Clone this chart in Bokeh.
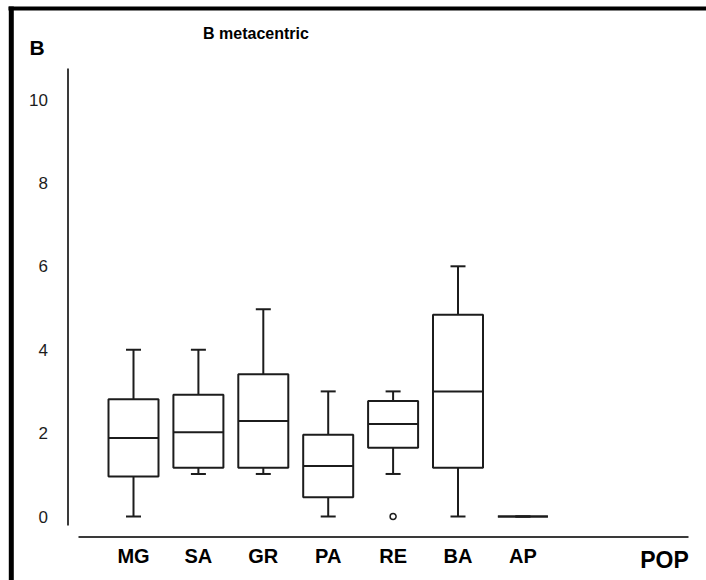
from bokeh.plotting import figure
from bokeh.models import Range1d, ColumnDataSource
from bokeh.embed import file_html
from bokeh.resources import INLINE
from bokeh.core.properties import value

# ---- data ----
populations = ["MG", "SA", "GR", "PA", "RE", "BA", "AP"]
whisker_low = [0.0, 1.02, 1.02, 0.0, 1.02, 0.0, 0.0]
q1 = [0.96, 1.17, 1.17, 0.46, 1.65, 1.17, 0.0]
median = [1.88, 2.02, 2.29, 1.21, 2.22, 3.0, 0.0]
q3 = [2.81, 2.92, 3.41, 1.96, 2.77, 4.84, 0.0]
whisker_high = [4.0, 4.0, 4.97, 3.0, 3.0, 6.0, 0.0]
outlier_pop = ["RE"]
outlier_val = [0.0]
y_ticks = [0, 2, 4, 6, 8, 10]
title_text = "B metacentric"
panel_label = "B"
x_label = "POP"

# ---- layout (pixel geometry of the canvas) ----
W, H = 706, 580
X0, DX = 133.0, 64.9     # pixel of first category, pixels per category
Y0, DY = 516.0, 41.7     # pixel of value 0, pixels per unit


def dx(px):
    return (px - X0) / DX


def dy(py):
    return (Y0 - py) / DY


INK = "#1c1c1c"
AXIS = "#3a3a3a"
FONT = "Liberation Sans"

p = figure(width=W, height=H, x_range=Range1d(dx(0), dx(W)), y_range=Range1d(dy(H), dy(0)),
           x_axis_type=None, y_axis_type=None, min_border=0, toolbar_location=None,
           output_backend="svg", outline_line_color=None, background_fill_color="white",
           border_fill_color="white")
p.grid.visible = False

idx = {c: i for i, c in enumerate(populations)}
xs = [idx[c] for c in populations]
bw = 25.0 / DX
cw = 7.5 / DX

src = ColumnDataSource(dict(x=xs, left=[x - bw for x in xs], right=[x + bw for x in xs],
                            cl=[x - cw for x in xs], cr=[x + cw for x in xs],
                            lo=whisker_low, q1=q1, med=median, q3=q3, hi=whisker_high))

# whiskers
p.segment(x0="x", y0="q3", x1="x", y1="hi", source=src, line_color=INK, line_width=2)
p.segment(x0="x", y0="lo", x1="x", y1="q1", source=src, line_color=INK, line_width=2)
p.segment(x0="cl", y0="hi", x1="cr", y1="hi", source=src, line_color=INK, line_width=2)
p.segment(x0="cl", y0="lo", x1="cr", y1="lo", source=src, line_color=INK, line_width=2)
# boxes
p.quad(left="left", right="right", bottom="q1", top="q3", source=src,
       fill_color="white", line_color=INK, line_width=2)
p.segment(x0="left", y0="med", x1="right", y1="med", source=src, line_color=INK, line_width=2)

# outliers
p.scatter(x=[idx[c] for c in outlier_pop], y=outlier_val, marker="circle", size=6,
          fill_color="white", line_color=INK, line_width=1.5)

# axis lines
p.segment(x0=[dx(67.5)], y0=[dy(68)], x1=[dx(67.5)], y1=[dy(525)], line_color=AXIS, line_width=2)
p.segment(x0=[dx(78)], y0=[dy(536.5)], x1=[dx(688)], y1=[dy(536.5)], line_color=AXIS, line_width=2)

# y tick labels
p.text(x=[dx(47.5)] * len(y_ticks), y=y_ticks, text=[str(t) for t in y_ticks],
       text_align="right", text_baseline="middle", text_font=value(FONT),
       text_font_size="17px", text_color=INK)

# category labels
p.text(x=xs, y=[dy(555)] * len(xs), text=populations, text_align="center",
       text_baseline="middle", text_font=value(FONT), text_font_style="bold",
       text_font_size="20px", text_color="black")

# POP label
p.text(x=[dx(664)], y=[dy(559)], text=[x_label], text_align="center", text_baseline="middle",
       text_font=value(FONT), text_font_style="bold", text_font_size="23px", text_color="black")

# title and panel letter
p.text(x=[dx(255.5)], y=[dy(33)], text=[title_text], text_align="center", text_baseline="middle",
       text_font=value(FONT), text_font_style="bold", text_font_size="16px", text_color="black")
p.text(x=[dx(36.5)], y=[dy(47)], text=[panel_label], text_align="center", text_baseline="middle",
       text_font=value(FONT), text_font_style="bold", text_font_size="21px", text_color="black")

# figure frame (top and left edges)
p.segment(x0=[dx(8)], y0=[dy(8)], x1=[dx(W + 5)], y1=[dy(8)], line_color="black", line_width=4)
p.segment(x0=[dx(10.8)], y0=[dy(6)], x1=[dx(10.8)], y1=[dy(H + 5)], line_color="black", line_width=5)

open("out.html", "w").write(file_html(p, INLINE))
